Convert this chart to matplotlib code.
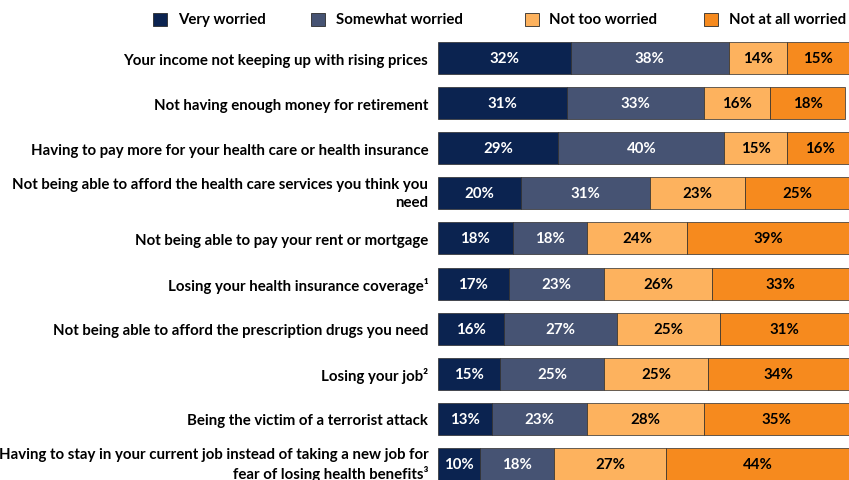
import matplotlib
matplotlib.use("Agg")
import matplotlib.pyplot as plt
from matplotlib.patches import Rectangle
import matplotlib.transforms as mtransforms
import numpy as np

plt.rcParams['font.family'] = ['Lato', 'DejaVu Sans']

categories = [
    "Your income not keeping up with rising prices",
    "Not having enough money for retirement",
    "Having to pay more for your health care or health insurance",
    "Not being able to afford the health care services you think you\nneed",
    "Not being able to pay your rent or mortgage",
    "Losing your health insurance coverage\u00b9",
    "Not being able to afford the prescription drugs you need",
    "Losing your job\u00b2",
    "Being the victim of a terrorist attack",
    "Having to stay in your current job instead of taking a new job for\nfear of losing health benefits\u00b3",
]
series_names = ["Very worried", "Somewhat worried", "Not too worried", "Not at all worried"]
very = [32, 31, 29, 20, 18, 17, 16, 15, 13, 10]
somewhat = [38, 33, 40, 31, 18, 23, 27, 25, 23, 18]
not_too = [14, 16, 15, 23, 24, 26, 25, 25, 28, 27]
not_at_all = [15, 18, 16, 25, 39, 33, 31, 34, 35, 44]

colors = ["#0b2350", "#465373", "#fdb25e", "#f68a1e"]
text_colors = ["white", "white", "black", "black"]

W, H = 849, 481
fig = plt.figure(figsize=(W / 100, H / 100), dpi=100)
ax_left = 438 / W
ax_top_px = 36.5
ax = fig.add_axes([ax_left, 0, 1 - ax_left, 1 - ax_top_px / H])

FS = 10.8
y = np.arange(len(categories))
left = np.zeros(len(categories))
for vals, name, c, tc in zip([very, somewhat, not_too, not_at_all], series_names, colors, text_colors):
    vals = np.array(vals, dtype=float)
    ax.barh(y, vals, left=left, height=0.71, color=c, edgecolor="#2b2b2b",
            linewidth=0.5, label=name)
    for yi, l, v in zip(y, left, vals):
        ax.text(l + v / 2, yi, f"{int(v)}%", ha="center", va="center",
                color=tc, fontsize=FS, fontweight="bold")
    left += vals

row_px = 45.1
bottom_row = (481 - 59) / row_px
ax.set_ylim(bottom_row, -0.5)
ax.set_xlim(0, 99)
ax.set_yticks(y)
ax.set_yticklabels(categories, fontsize=FS, fontweight="bold", ha="right",
                   linespacing=1.3)
ax.tick_params(axis="y", length=0, pad=7)
ax.set_xticks([])
for s in ax.spines.values():
    s.set_visible(False)

shift = mtransforms.ScaledTranslation(0, 3.5 / 100, fig.dpi_scale_trans)
for lbl in ax.get_yticklabels():
    if "\n" in lbl.get_text():
        lbl.set_transform(lbl.get_transform() + shift)

# legend drawn manually in figure pixel positions
sq_x = [153, 311, 525, 704]
txt_x = [178, 336, 549, 729]
for sx, tx, c, name in zip(sq_x, txt_x, colors, series_names):
    fig.patches.append(Rectangle((sx / W, 1 - 27 / H), 14 / W, 13 / H,
                                 transform=fig.transFigure, facecolor=c,
                                 edgecolor="#2b2b2b", linewidth=0.6))
    fig.text(tx / W, 1 - 20 / H, name, ha="left", va="center",
             fontsize=FS, fontweight="bold")

fig.savefig("out.png", dpi=100)
